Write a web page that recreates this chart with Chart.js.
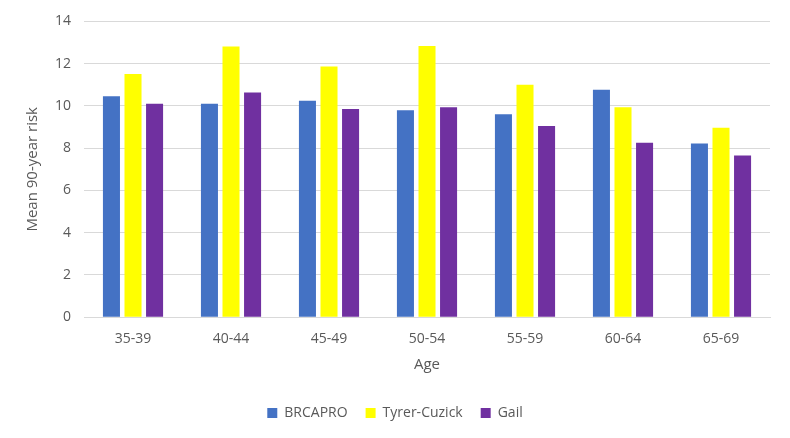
<!DOCTYPE html>
<html>
<head>
<meta charset="utf-8">
<script src="https://cdn.jsdelivr.net/npm/chart.js@4"></script>
<style>
  html, body { margin: 0; padding: 0; background: #fff; }
  #wrap { width: 790px; height: 438px; }
</style>
</head>
<body>
<div id="wrap"><canvas id="chart" width="790" height="438"></canvas></div>
<script>
const ageGroups = ['35-39', '40-44', '45-49', '50-54', '55-59', '60-64', '65-69'];
const brcapro = [10.46, 10.1, 10.25, 9.8, 9.61, 10.76, 8.22];
const tyrerCuzick = [11.51, 12.81, 11.87, 12.83, 11.0, 9.94, 8.97];
const gail = [10.1, 10.63, 9.85, 9.94, 9.05, 8.26, 7.65];
const yTicks = [0, 2, 4, 6, 8, 10, 12, 14];

const textColor = '#595959';
const fontFamily = '"Open Sans", "Noto Sans", sans-serif';

const ctx = document.getElementById('chart').getContext('2d');
new Chart(ctx, {
  type: 'bar',
  data: {
    labels: ageGroups,
    datasets: [
      { label: 'BRCAPRO', data: brcapro, backgroundColor: '#4472C4' },
      { label: 'Tyrer-Cuzick', data: tyrerCuzick, backgroundColor: '#FFFF00' },
      { label: 'Gail', data: gail, backgroundColor: '#7030A0' },
    ],
  },
  options: {
    responsive: false,
    animation: false,
    layout: { padding: { top: 9, right: 20, left: 20, bottom: 8 } },
    datasets: {
      bar: { barPercentage: 0.79, categoryPercentage: 0.66 },
    },
    scales: {
      x: {
        grid: { display: false },
        border: { color: '#d9d9d9', width: 1 },
        ticks: { color: textColor, font: { family: fontFamily, size: 14 }, padding: 5 },
        title: { display: true, text: 'Age', color: textColor, font: { family: fontFamily, size: 15 }, padding: { top: 4, bottom: 14 } },
      },
      y: {
        min: 0,
        max: 14,
        afterBuildTicks: (axis) => { axis.ticks = yTicks.map((v) => ({ value: v })); },
        grid: { color: '#d9d9d9', drawTicks: false },
        border: { display: false },
        ticks: { color: textColor, font: { family: fontFamily, size: 14 }, padding: 13 },
        title: { display: true, text: 'Mean 90-year risk', color: textColor, font: { family: fontFamily, size: 15 }, padding: { bottom: 0 } },
      },
    },
    plugins: {
      legend: {
        position: 'bottom',
        labels: { color: textColor, font: { family: fontFamily, size: 14 }, boxWidth: 10, boxHeight: 10, padding: 18 },
      },
      tooltip: { enabled: false },
    },
  },
});
</script>
</body>
</html>
